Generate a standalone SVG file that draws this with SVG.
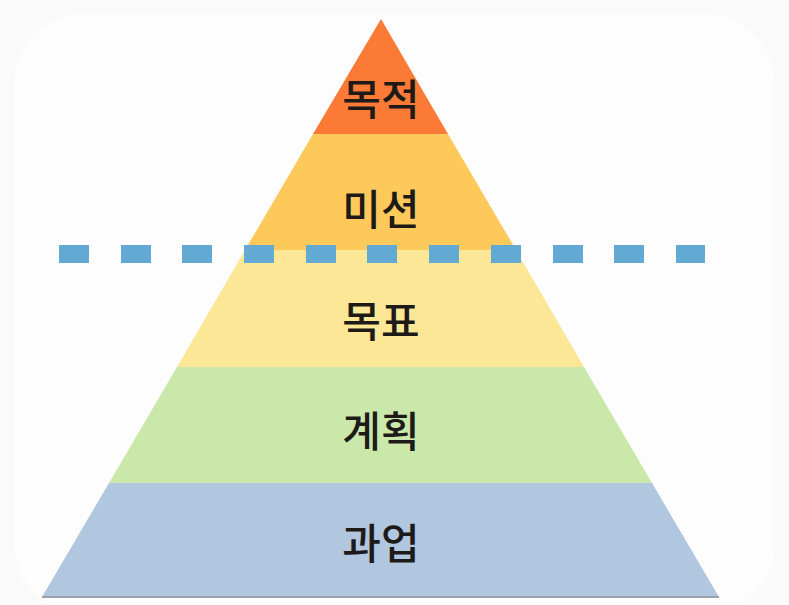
<svg xmlns="http://www.w3.org/2000/svg" width="789" height="605" viewBox="0 0 789 605">
  <style>
    .lbl { font-family: "Noto Sans CJK KR", "Noto Sans", sans-serif; font-size: 42px; font-weight: 500; fill: #1e1a18; text-anchor: middle; dominant-baseline: central; }
    .dash { fill: #62a9d4; }
  </style>
  <rect x="0" y="0" width="789" height="605" fill="#fafafb"/>
  <rect x="14" y="14" width="761" height="600" rx="70" fill="#fdfdfe"/>

  <g id="layer-purpose">
    <polygon points="381,19 448,134 313,134" fill="#fb7a35"/>
    <text class="lbl" x="381" y="96">목적</text>
  </g>
  <g id="layer-mission">
    <polygon points="313,134 448,134 516,250 245,250" fill="#fdc95b"/>
    <text class="lbl" x="381" y="206">미션</text>
  </g>
  <g id="layer-goal">
    <polygon points="245,250 516,250 584,367 177,367" fill="#fbe795"/>
    <text class="lbl" x="381" y="318">목표</text>
  </g>
  <g id="layer-plan">
    <polygon points="177,367 584,367 652,483 109,483" fill="#c9e8a9"/>
    <text class="lbl" x="381" y="428">계획</text>
  </g>
  <g id="layer-task">
    <polygon points="109,483 652,483 719,597 42,597" fill="#b1c6df"/>
    <line x1="42" y1="597" x2="719" y2="597" stroke="#9aa2ad" stroke-width="2"/>
    <text class="lbl" x="381" y="540">과업</text>
  </g>

  <g id="divider">
    <rect class="dash" x="59" y="245" width="30" height="18"/>
    <rect class="dash" x="121" y="245" width="30" height="18"/>
    <rect class="dash" x="182" y="245" width="30" height="18"/>
    <rect class="dash" x="244" y="245" width="30" height="18"/>
    <rect class="dash" x="306" y="245" width="30" height="18"/>
    <rect class="dash" x="367" y="245" width="30" height="18"/>
    <rect class="dash" x="429" y="245" width="30" height="18"/>
    <rect class="dash" x="491" y="245" width="30" height="18"/>
    <rect class="dash" x="553" y="245" width="30" height="18"/>
    <rect class="dash" x="614" y="245" width="30" height="18"/>
    <rect class="dash" x="676" y="245" width="29" height="18"/>
  </g>
</svg>
